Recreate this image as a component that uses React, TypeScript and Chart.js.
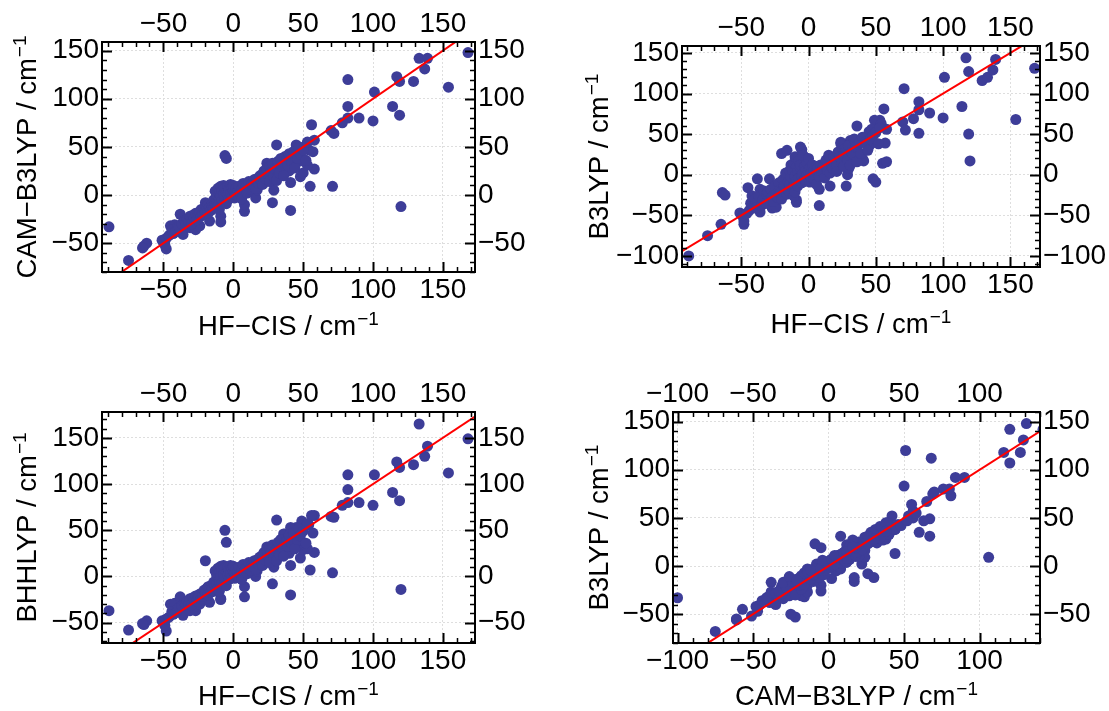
import React, { useEffect, useRef } from 'react';
import { Chart, registerables } from 'chart.js';

Chart.register(...registerables);

// One entry per molecule, energies in cm^-1 (same index across arrays)
const hfCis = [
  -89, -75, -64, -62, -65, -51, -48, -49, -48, -45,
  -42, -38, -36, -36, -41, -31, -29, -27, -24, -23,
  -20, -16, -17, -6, -5, -9, -9, 8, 8, 16,
  16, 17, 28, 29, 30, 31, 40, 41, 41, 48,
  50, 55, 58, 53, 47, 45, 49, 54, 58, 56,
  71, 70, 72, 78, 82, 82, 82, 90, 100, 101,
  114, 119, 120, 117, 119, 129, 133, 139, 137, 154,
  168, 45, 37, 36, 41, 24, 57,
  -46, -44, -43, -40, -39, -37, -35, -34, -33, -32,
  -31, -30, -29, -28, -27, -26, -25, -24, -23, -22,
  -22, -21, -20, -19, -18, -18, -17, -16, -15, -15,
  -14, -14, -13, -13, -12, -12, -11, -11, -10, -10,
  -10, -9, -9, -8, -8, -7, -7, -6, -6, -5,
  -5, -4, -4, -3, -3, -2, -2, -1, -1, 0,
  0, 1, 1, 2, 2, 3, 4, 4, 5, 6,
  6, 7, 8, 9, 10, 11, 12, 13, 14, 15,
  16, 17, 18, 19, 20, 21, 21, 22, 23, 24,
  25, 26, 26, 27, 28, 29, 30, 31, 32, 33,
  34, 35, 36, 38, 39, 40, 42, 43, 44, 46,
  47, 48, 50, 52, 53,
];

const camB3lyp = [
  -33, -68, -53, -50, -55, -47, -56, -52, -45, -32,
  -31, -20, -31, -41, -38, -34, -26, -36, -32, -15,
  -8, -12, -27, 41, 38, -22, -28, -17, -10, -3,
  14, 5, -8, 5, 31, 52, 25, -16, 13, 19,
  23, 9, 27, 31, 35, 52, 49, 47, 57, 73,
  9, 67, 64, 75, 80, 92, 120, 80, 77, 107,
  92, 83, -12, 123, 118, 118, 142, 142, 131, 112,
  148, 40, 40, 35, 42, 33, 45,
  -42, -36, -40, -34, -33, -30, -27, -29, -25, -28,
  -22, -30, -21, -24, -19, -26, -20, -18, -22, -16,
  -20, -14, -17, -12, -19, -10, -13, -16, -8, -12,
  -5, -14, -9, 4, -7, 0, -11, 7, -4, 2,
  -15, 9, -1, 5, -6, 10, 1, -3, 7, 3,
  -9, 9, 0, 6, -4, 11, 2, 8, -2, 5,
  10, -3, 3, 7, 0, 4, -2, 9, 2, 6,
  -4, 12, 4, 8, 2, 14, 6, 11, 9, 16,
  7, 17, 12, 20, 14, 22, 11, 25, 17, 28,
  21, 30, 14, 24, 33, 19, 27, 15, 35, 23,
  38, 29, 20, 36, 31, 43, 33, 45, 28, 38,
  50, 42, 47, 36, 55,
];

const b3lyp = [
  -100, -75, -22, -25, -61, -47, -61, -51, -57, -16,
  -26, -5, -18, -46, -39, -35, -5, -41, -40, -16,
  26, 30, -14, 34, 31, -31, -34, -38, -18, -14,
  21, 8, -14, 0, 8, 42, 20, 17, 44, -5,
  -9, 14, 16, 67, 39, 53, 67, 63, 56, 81,
  106, 65, 55, 69, 80, 90, 51, 76, 70, 120,
  84, 50, 17, 144, 127, 116, 120, 142, 129, 68,
  131, 35, 37, 60, 44, 40, 39,
  -48, -44, -35, -30, -41, -26, -38, -31, -20, -35,
  -24, -22, -31, -18, -27, -33, -14, -24, -28, -10,
  -20, -22, -30, -6, -16, -13, 2, -24, -9, -19,
  5, -12, -3, 12, -16, 6, -26, 14, -2, 22,
  -21, 10, -8, 4, -14, 18, -4, 8, 12, -2,
  -10, 24, 2, 10, -6, 6, -8, 14, 0, 4,
  20, -9, 8, 2, -4, 12, -5, 6, 0, 10,
  -12, 8, -2, 12, 4, 10, -4, 18, 6, 24,
  2, 12, 8, 22, 18, 12, 4, 28, 22, 38,
  14, 24, 10, 32, 30, 18, 36, 12, 28, 26,
  44, 34, 16, 40, 26, 46, 40, 38, 30, 44,
  56, 48, 52, 38, 58,
];

const bhhlyp = [
  -37, -58, -52, -48, -51, -48, -59, -53, -46, -30,
  -29, -22, -33, -42, -39, -37, -28, -37, -30, -19,
  17, -10, -28, 50, 37, -24, -25, -22, -11, 0,
  16, 6, -8, 10, 32, 61, 25, -20, 12, 20,
  29, 7, 26, 30, 35, 53, 60, 56, 66, 66,
  4, 65, 64, 77, 80, 94, 110, 80, 77, 110,
  91, 82, -14, 124, 118, 121, 165, 141, 130, 112,
  149, 38, 46, 46, 53, 32, 47,
  -44, -38, -41, -36, -34, -32, -29, -30, -27, -30,
  -24, -31, -23, -25, -21, -27, -22, -19, -24, -18,
  -21, -15, -18, -13, -20, -11, -14, -17, -9, -13,
  -6, -16, -10, 6, -8, 2, -13, 9, -5, 4,
  -16, 11, 0, 7, -7, 12, 2, -2, 9, 4,
  -10, 10, 1, 7, -3, 12, 3, 9, -1, 6,
  11, -2, 4, 8, 1, 5, -1, 10, 3, 7,
  -3, 13, 5, 9, 3, 15, 7, 12, 10, 17,
  8, 18, 13, 21, 15, 23, 12, 26, 18, 29,
  22, 31, 15, 26, 34, 21, 28, 17, 37, 24,
  40, 31, 22, 38, 33, 45, 35, 47, 30, 40,
  52, 44, 49, 36, 57,
];

// Tick labels
const hfTicks = [-50, 0, 50, 100, 150];
const camTicks = [-50, 0, 50, 100, 150];
const bhhlypTicks = [-50, 0, 50, 100, 150];
const b3lypTicks = [-100, -50, 0, 50, 100, 150];
const b3lypTicksBottom = [-100, -50, 0, 50, 100];

// Axis titles: [main text, superscript]
const hfTitle = ['HF\u2212CIS / cm', '\u22121'];
const camTitle = ['CAM\u2212B3LYP / cm', '\u22121'];
const b3lypTitle = ['B3LYP / cm', '\u22121'];
const bhhlypTitle = ['BHHLYP / cm', '\u22121'];

// Parity line y = slope * x + intercept
const parity = { slope: 1, intercept: 0 };

const FONT = "'Liberation Sans', Arial, Helvetica, sans-serif";
const POINT_COLOR = '#3d3d98';
const TICK_FS = 28;
const TITLE_FS = 27.5;
const SUP_FS = 19;

type Panel = {
  id: string;
  xs: number[];
  ys: number[];
  xTitle: string[];
  yTitle: string[];
  xTicks: number[];
  yTicks: number[];
  xRange: [number, number];
  yRange: [number, number];
  canvas: [number, number, number, number];
  area: [number, number, number, number];
  yTitleX: number;
  xTitleY: number;
};

const panels: Panel[] = [
  {
    id: 'a', xs: hfCis, ys: camB3lyp, xTitle: hfTitle, yTitle: camTitle,
    xTicks: hfTicks, yTicks: camTicks, xRange: [-94, 173], yRange: [-80, 159],
    canvas: [0, 0, 555, 350], area: [102, 42, 475, 272], yTitleX: 26, xTitleY: 325,
  },
  {
    id: 'b', xs: hfCis, ys: b3lyp, xTitle: hfTitle, yTitle: b3lypTitle,
    xTicks: hfTicks, yTicks: b3lypTicks, xRange: [-94, 172], yRange: [-113.6, 158.5],
    canvas: [555, 0, 554, 350], area: [682, 46, 1040, 267], yTitleX: 598, xTitleY: 323,
  },
  {
    id: 'c', xs: hfCis, ys: bhhlyp, xTitle: hfTitle, yTitle: bhhlypTitle,
    xTicks: hfTicks, yTicks: bhhlypTicks, xRange: [-94, 173], yRange: [-72, 178],
    canvas: [0, 350, 555, 361], area: [102, 412, 475, 643], yTitleX: 26, xTitleY: 695,
  },
  {
    id: 'd', xs: b3lyp, ys: camB3lyp, xTitle: camTitle, yTitle: b3lypTitle,
    xTicks: b3lypTicksBottom, yTicks: camTicks, xRange: [-103, 140], yRange: [-80, 160],
    canvas: [555, 350, 554, 361], area: [673, 412, 1040, 643], yTitleX: 598, xTitleY: 695,
  },
];

const fmt = (v: number | string) => {
  const n = Number(v);
  return n < 0 ? '\u2212' + Math.abs(n) : String(n);
};

const minorValues = (min: number, max: number, majors: number[]) => {
  const out: number[] = [];
  for (let v = Math.ceil(min / 10) * 10; v <= max; v += 10) {
    if (!majors.includes(v)) out.push(v);
  }
  return out;
};

const inwardTicks = {
  id: 'inwardTicks',
  afterDatasetsDraw(chart: any, _args: any, opts: any) {
    const { ctx, chartArea: a } = chart;
    const xs = chart.scales.x;
    const ys = chart.scales.y;
    ctx.save();
    ctx.strokeStyle = '#000';
    const drawX = (vals: number[], len: number, w: number) => {
      ctx.lineWidth = w;
      ctx.beginPath();
      vals.forEach((v) => {
        const px = Math.round(xs.getPixelForValue(v)) + 0.5;
        ctx.moveTo(px, a.bottom);
        ctx.lineTo(px, a.bottom - len);
        ctx.moveTo(px, a.top);
        ctx.lineTo(px, a.top + len);
      });
      ctx.stroke();
    };
    const drawY = (vals: number[], len: number, w: number) => {
      ctx.lineWidth = w;
      ctx.beginPath();
      vals.forEach((v) => {
        const py = Math.round(ys.getPixelForValue(v)) + 0.5;
        ctx.moveTo(a.left, py);
        ctx.lineTo(a.left + len, py);
        ctx.moveTo(a.right, py);
        ctx.lineTo(a.right - len, py);
      });
      ctx.stroke();
    };
    drawX(opts.xMajor, 10, 2);
    drawY(opts.yMajor, 10, 2);
    drawX(minorValues(xs.min, xs.max, opts.xMajor), 5, 1.5);
    drawY(minorValues(ys.min, ys.max, opts.yMajor), 5, 1.5);
    ctx.lineWidth = 2;
    ctx.strokeRect(a.left, a.top, a.right - a.left, a.bottom - a.top);
    ctx.restore();
  },
};

// Axis titles with a real superscript
const axisTitles = {
  id: 'axisTitles',
  afterDraw(chart: any, _args: any, opts: any) {
    const { ctx, chartArea: a } = chart;
    const draw = (parts: string[], x: number, y: number, rot: number) => {
      ctx.save();
      ctx.translate(x, y);
      ctx.rotate(rot);
      ctx.fillStyle = '#000';
      ctx.textAlign = 'left';
      ctx.textBaseline = 'alphabetic';
      ctx.font = `${TITLE_FS}px ${FONT}`;
      const wMain = ctx.measureText(parts[0]).width;
      ctx.font = `${SUP_FS}px ${FONT}`;
      const wSup = ctx.measureText(parts[1]).width;
      const total = wMain + 1 + wSup;
      const base = TITLE_FS * 0.716 / 2;
      ctx.font = `${TITLE_FS}px ${FONT}`;
      ctx.fillText(parts[0], -total / 2, base);
      ctx.font = `${SUP_FS}px ${FONT}`;
      ctx.fillText(parts[1], -total / 2 + wMain + 1, base - 10);
      ctx.restore();
    };
    draw(opts.x, (a.left + a.right) / 2, opts.xY, 0);
    draw(opts.y, opts.yX, (a.top + a.bottom) / 2, -Math.PI / 2);
  },
};

function PanelChart({ p }: { p: Panel }) {
  const ref = useRef<HTMLCanvasElement>(null);
  const [cx, cy, cw, ch] = p.canvas;

  useEffect(() => {
    if (!ref.current) return;
    const [al, at, ar, ab] = p.area;
    const leftW = al - cx;
    const rightW = cx + cw - ar;
    const topH = at - cy;
    const bottomH = cy + ch - ab;

    const points = p.xs.map((v, i) => ({ x: v, y: p.ys[i] }));
    const line = p.xRange.map((v) => ({ x: v, y: parity.slope * v + parity.intercept }));

    const tickFont = { family: FONT, size: TICK_FS, lineHeight: 1 };
    const setTicks = (vals: number[]) => (s: any) => {
      s.ticks = vals.map((v) => ({ value: v }));
    };
    const tickOpts = (padding: number) => ({
      font: tickFont, color: '#000', padding, autoSkip: false, maxRotation: 0, minRotation: 0, callback: fmt,
    });
    const gridOn = { display: true, drawOnChartArea: true, drawTicks: false, color: '#dedede', lineWidth: 1 };
    const gridOff = { display: false, drawOnChartArea: false, drawTicks: false };
    const border = { display: true, color: '#000', width: 2, dash: [2, 2] };

    const chart = new Chart(ref.current, {
      type: 'scatter',
      data: {
        datasets: [
          {
            type: 'scatter',
            data: line,
            showLine: true,
            borderColor: '#ff0000',
            borderWidth: 2,
            pointRadius: 0,
            fill: false,
            order: 0,
          } as any,
          {
            type: 'scatter',
            data: points,
            backgroundColor: POINT_COLOR,
            borderColor: POINT_COLOR,
            borderWidth: 0,
            pointRadius: 5.5,
            clip: 0,
            order: 1,
          } as any,
        ],
      },
      options: {
        responsive: false,
        animation: false,
        devicePixelRatio: 1,
        events: [],
        layout: { padding: 0, autoPadding: false },
        plugins: {
          legend: { display: false },
          tooltip: { enabled: false },
          inwardTicks: { xMajor: p.xTicks, yMajor: p.yTicks },
          axisTitles: { x: p.xTitle, y: p.yTitle, xY: p.xTitleY - cy, yX: p.yTitleX - cx },
        } as any,
        scales: {
          x: {
            type: 'linear', position: 'bottom', min: p.xRange[0], max: p.xRange[1],
            afterBuildTicks: setTicks(p.xTicks),
            afterFit: (s: any) => { s.height = bottomH; },
            ticks: tickOpts(4),
            grid: gridOn, border,
          },
          x2: {
            type: 'linear', position: 'top', min: p.xRange[0], max: p.xRange[1],
            afterBuildTicks: setTicks(p.xTicks),
            afterFit: (s: any) => { s.height = topH; },
            ticks: tickOpts(4),
            grid: gridOff, border,
          },
          y: {
            type: 'linear', position: 'left', min: p.yRange[0], max: p.yRange[1],
            afterBuildTicks: setTicks(p.yTicks),
            afterFit: (s: any) => { s.width = leftW; },
            ticks: tickOpts(3),
            grid: gridOn, border,
          },
          y2: {
            type: 'linear', position: 'right', min: p.yRange[0], max: p.yRange[1],
            afterBuildTicks: setTicks(p.yTicks),
            afterFit: (s: any) => { s.width = rightW; },
            ticks: tickOpts(3),
            grid: gridOff, border,
          },
        } as any,
      },
      plugins: [inwardTicks as any, axisTitles as any],
    });
    return () => chart.destroy();
  }, []);

  return (
    <canvas
      ref={ref}
      width={cw}
      height={ch}
      style={{ position: 'absolute', left: cx, top: cy, width: cw, height: ch, display: 'block' }}
    />
  );
}

export default function App() {
  return (
    <div style={{ position: 'absolute', left: 0, top: 0, width: 1109, height: 711, background: '#fff', overflow: 'hidden' }}>
      {panels.map((p) => (
        <PanelChart key={p.id} p={p} />
      ))}
    </div>
  );
}
